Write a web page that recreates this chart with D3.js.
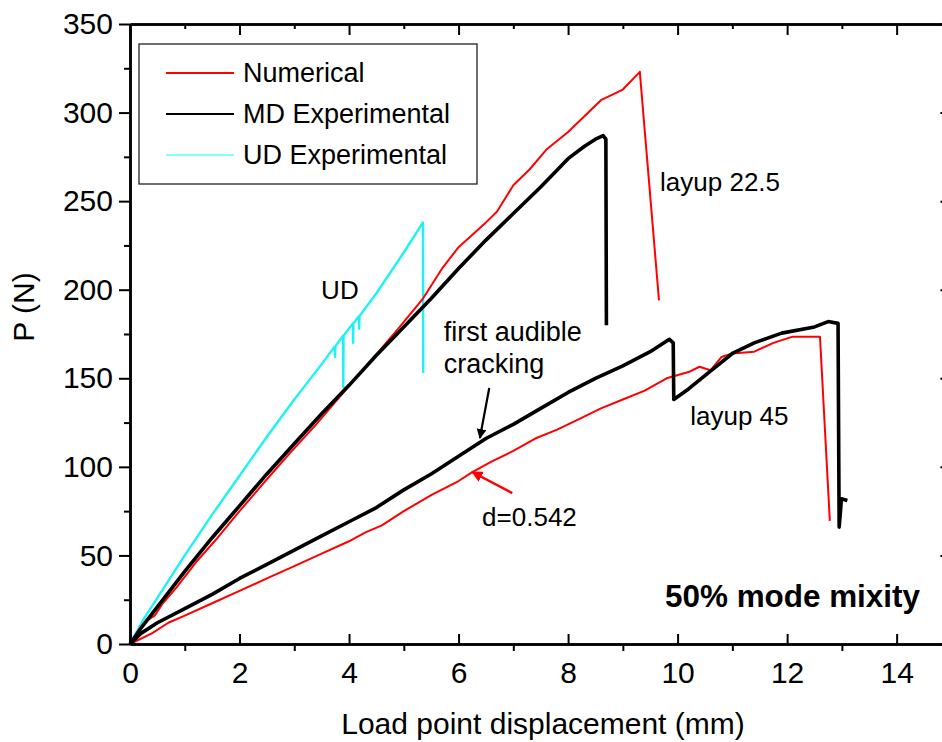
<!DOCTYPE html>
<html><head><meta charset="utf-8">
<script src="https://cdn.jsdelivr.net/npm/d3@7"></script>
<style>
body{margin:0;background:#fff}
text{font-family:"Liberation Sans",Arial,Helvetica,sans-serif;fill:#000}
</style>
</head><body>
<svg id="c" width="942" height="742"></svg>
<script>
// ---- axis ticks ----
const xTicks=[0,2,4,6,8,10,12,14];
const xMinor=[1,3,5,7,9,11,13,15];
const yTicks=[0,50,100,150,200,250,300,350];
const yMinor=[25,75,125,175,225,275,325];

// ---- UD Experimental (cyan) ----
const udX=[0,0.25,0.5,1,1.5,2,2.5,3,3.5,3.74,3.745,3.75,3.89,3.895,3.9,4.07,4.075,4.08,4.18,4.185,4.19,4.5,5,5.35,5.355];
const udP=[0,14,26,50,73,95,117,138,158,168,162,168,174,145,174,181,170,181,185,178,185,198,221,238,153];

// ---- MD Experimental layup 22.5 (black) ----
const md22X=[0,0.2,0.5,1,1.5,2,2.5,3,3.5,4,4.5,5,5.5,6,6.5,7,7.5,8,8.3,8.5,8.64,8.69,8.70];
const md22P=[0,9,21,41,60,78,96,113,130,146,163,179,195,212,228,243,258,274,281,285,287,285,180];

// ---- Numerical layup 22.5 (red) ----
const num22X=[0,0.15,0.3,0.45,0.6,0.85,1.2,1.6,2,2.5,2.9,3.4,3.9,4.4,4.9,5.35,5.7,6,6.5,6.7,7,7.3,7.6,8,8.6,9,9.31,9.66];
const num22P=[0,7,13,16,23,32,46,60,75,93,107,124,142,160,178,195,212,224,238,244,259,268,279,289,307,313,323,194];

// ---- MD Experimental layup 45 (black) ----
const md45X=[0,0.2,0.5,1,1.5,2,2.5,3,3.5,4,4.5,5,5.5,6,6.5,7,7.5,8,8.5,9,9.5,9.85,9.92,9.93,10.2,10.6,11,11.4,11.9,12.5,12.75,12.93,12.95,12.98,12.99,13.1];
const md45P=[0,6,12,20,28,37,45,53,61,69,77,87,96,106,116,124,133,142,150,157,165,172,170,138,144,154,164,170,175.5,179,182,181,66,77,82,81];

// ---- Numerical layup 45 (red) ----
const num45X=[0,0.4,0.7,1,1.5,2,2.5,3,3.5,4,4.3,4.6,5,5.5,6,6.25,6.6,7,7.4,7.8,8.2,8.6,9,9.4,9.8,10.2,10.4,10.6,10.8,11,11.4,11.75,12.1,12.6,12.78];
const num45P=[0,6,12,16,23,30,37,44,51,58,63,67,75,84,92,97,103,109,116,121,127,133,138,143,150,153.5,156.5,154.5,162,164,165,170,173.5,173.5,69.5];

// ---- legend ----
const legendLabels=["Numerical","MD Experimental","UD Experimental"];
const legendColors=["#ff0000","#000000","#00ffff"];

const svg=d3.select("#c");
const x=d3.scaleLinear().domain([0,15]).range([130,130+15*54.76]);
const y=d3.scaleLinear().domain([0,350]).range([644,24]);

const zip=(a,b)=>a.map((v,i)=>[v,b[i]]);
const line=d3.line().x(d=>x(d[0])).y(d=>y(d[1]));

function curve(X,P,color,w){
  svg.append("path").datum(zip(X,P)).attr("d",line)
    .attr("fill","none").attr("stroke",color).attr("stroke-width",w)
    .attr("stroke-linejoin","round");
}
curve(udX,udP,"#1ef2f2",2.4);
curve(num22X,num22P,"#ff0000",2);
curve(num45X,num45P,"#ff0000",2);
curve(md22X,md22P,"#000",3.6);
curve(md45X,md45P,"#000",3.6);

// axes
const g=svg.append("g").attr("class","axes");
function ax(gen,tr){
  const a=g.append("g").attr("transform",tr).call(gen);
  a.selectAll("path.domain").attr("stroke","#000").attr("stroke-width",2.5);
  a.selectAll(".tick line").attr("stroke","#000").attr("stroke-width",2);
  return a;
}
const xb=ax(d3.axisBottom(x).tickValues(xTicks).tickSize(-10).tickSizeOuter(0).tickFormat(d3.format("d")),"translate(0,644)");
xb.selectAll(".tick text").attr("font-size",30).attr("dy","0.71em").attr("y",18);
ax(d3.axisBottom(x).tickValues(xMinor).tickSize(7).tickSizeOuter(0).tickFormat(""),"translate(0,644)");
ax(d3.axisTop(x).tickValues(xTicks).tickSize(-11).tickSizeOuter(0).tickFormat(""),"translate(0,24)");
ax(d3.axisTop(x).tickValues(xMinor).tickSize(-5).tickSizeOuter(0).tickFormat(""),"translate(0,24)");
const yl=ax(d3.axisLeft(y).tickValues(yTicks).tickSize(11).tickSizeOuter(0).tickPadding(6).tickFormat(d3.format("d")),"translate(130,0)");
yl.selectAll(".tick text").attr("font-size",30);
ax(d3.axisLeft(y).tickValues(yMinor).tickSize(6).tickSizeOuter(0).tickFormat(""),"translate(130,0)");
ax(d3.axisRight(y).tickValues(yTicks).tickSize(-11).tickSizeOuter(0).tickFormat(""),`translate(${x(15)},0)`);
ax(d3.axisRight(y).tickValues(yMinor).tickSize(-5).tickSizeOuter(0).tickFormat(""),`translate(${x(15)},0)`);
g.selectAll(".tick text").attr("font-family",'"Liberation Sans",Arial,sans-serif').attr("fill","#000");

// axis titles
svg.append("text").attr("x",543).attr("y",734).attr("text-anchor","middle")
  .attr("font-size",30).text("Load point displacement (mm)");
svg.append("text").attr("transform","translate(34,307) rotate(-90)").attr("text-anchor","middle")
  .attr("font-size",30).text("P (N)");

// legend
const lg=svg.append("g");
lg.append("rect").attr("x",139).attr("y",44).attr("width",338).attr("height",140)
  .attr("fill","none").attr("stroke","#222").attr("stroke-width",1.3);
legendLabels.forEach((t,i)=>{
  const yy=73+i*41;
  lg.append("line").attr("x1",166).attr("x2",234).attr("y1",yy).attr("y2",yy)
    .attr("stroke",legendColors[i]).attr("stroke-width",i==2?1.2:2);
  lg.append("text").attr("x",243).attr("y",yy).attr("dy","0.35em").attr("font-size",27).text(t);
});

// annotations
function label(t,dx,dp,size,extra){
  const el=svg.append("text").attr("x",x(dx)).attr("y",y(dp)).attr("font-size",size).text(t);
  if(extra) extra(el);
  return el;
}
label("layup 22.5",9.68,255.7,26);
label("UD",3.49,194.8,26);
label("first audible",5.73,171,27);
label("cracking",5.73,153,27);
label("layup 45",10.23,123.6,26);
label("d=0.542",6.43,66.6,26);
label("50% mode mixity",9.77,20.9,32,el=>el.attr("font-weight","bold").attr("textLength",255).attr("lengthAdjust","spacingAndGlyphs"));

// arrows
const defs=svg.append("defs");
[["ab","#000"],["ar","#ff0000"]].forEach(([id,c])=>{
  defs.append("marker").attr("id",id).attr("viewBox","0 0 10 10").attr("refX",9).attr("refY",5)
    .attr("markerWidth",4.5).attr("markerHeight",4.5).attr("orient","auto")
    .append("path").attr("d","M0,0 L10,5 L0,10 z").attr("fill",c);
});
svg.append("line").attr("x1",x(6.56)).attr("y1",y(144.5)).attr("x2",x(6.39)).attr("y2",y(116.3))
  .attr("stroke","#000").attr("stroke-width",2.2).attr("marker-end","url(#ab)");
svg.append("line").attr("x1",x(6.98)).attr("y1",y(85.2)).attr("x2",x(6.25)).attr("y2",y(97.1))
  .attr("stroke","#ff0000").attr("stroke-width",2.5).attr("marker-end","url(#ar)");
</script>
</body></html>
